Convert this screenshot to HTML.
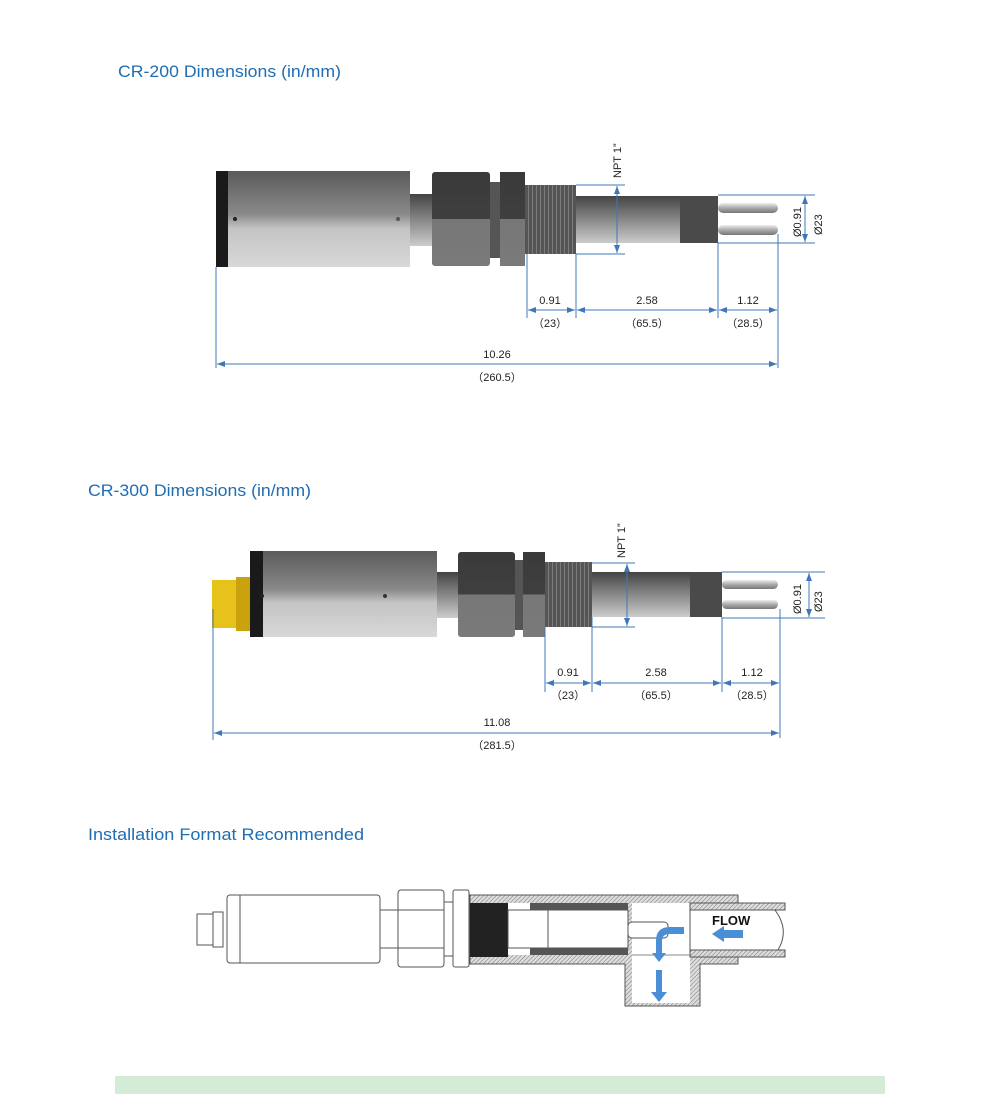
<!DOCTYPE html>
<html><head><meta charset="utf-8"><style>
html,body{margin:0;padding:0;background:#fff}
svg{display:block}
.t{font-family:"Liberation Sans",sans-serif;fill:#1f6db3;font-size:17px}
.d{font-family:"Liberation Sans","Noto Sans CJK SC",sans-serif;fill:#222;font-size:11px}
</style></head><body>
<svg width="1000" height="1117" viewBox="0 0 1000 1117" xmlns="http://www.w3.org/2000/svg">
<defs>
<linearGradient id="g1" x1="0" y1="0" x2="0" y2="1">
<stop offset="0" stop-color="#5a5a5a"/><stop offset="0.45" stop-color="#8a8a8a"/><stop offset="0.6" stop-color="#c4c4c4"/><stop offset="1" stop-color="#d8d8d8"/></linearGradient>
<linearGradient id="g2" x1="0" y1="0" x2="0" y2="1">
<stop offset="0" stop-color="#3a3a3a"/><stop offset="0.5" stop-color="#3f3f3f"/><stop offset="0.5" stop-color="#777"/><stop offset="1" stop-color="#7a7a7a"/></linearGradient>
<linearGradient id="g3" x1="0" y1="0" x2="0" y2="1">
<stop offset="0" stop-color="#444"/><stop offset="0.5" stop-color="#888"/><stop offset="1" stop-color="#ccc"/></linearGradient>
<linearGradient id="gp" x1="0" y1="0" x2="0" y2="1">
<stop offset="0" stop-color="#eee"/><stop offset="0.5" stop-color="#aaa"/><stop offset="1" stop-color="#777"/></linearGradient>
<pattern id="th" width="4" height="4" patternUnits="userSpaceOnUse"><rect width="4" height="4" fill="#555"/><line x1="0" y1="0" x2="0" y2="4" stroke="#888" stroke-width="1.5"/></pattern>
<pattern id="hat" width="3" height="3" patternUnits="userSpaceOnUse" patternTransform="rotate(45)"><rect width="3" height="3" fill="#ddd"/><line x1="0" y1="0" x2="0" y2="3" stroke="#777" stroke-width="1"/></pattern>
<marker id="a" markerWidth="8" markerHeight="6" refX="8" refY="3" orient="auto-start-reverse" markerUnits="userSpaceOnUse"><path d="M0,0 L8,3 L0,6 z" fill="#3f78b8"/></marker>
</defs>

<text class="t" x="118" y="77" textLength="223" lengthAdjust="spacingAndGlyphs">CR-200 Dimensions (in/mm)</text>
<text class="t" x="88" y="496" textLength="223" lengthAdjust="spacingAndGlyphs">CR-300 Dimensions (in/mm)</text>
<text class="t" x="88" y="840" textLength="276" lengthAdjust="spacingAndGlyphs">Installation Format Recommended</text>

<!-- CR-200 -->
<g>
<rect x="216" y="171" width="194" height="96" fill="url(#g1)"/>
<rect x="216" y="171" width="12" height="96" fill="#1a1a1a"/>
<circle cx="235" cy="219" r="2" fill="#222"/><circle cx="398" cy="219" r="2" fill="#555"/>
<rect x="410" y="194" width="22" height="52" fill="url(#g3)"/>
<rect x="432" y="172" width="58" height="94" rx="3" fill="url(#g2)"/>
<rect x="490" y="182" width="10" height="76" fill="#555"/>
<rect x="500" y="172" width="25" height="94" fill="url(#g2)"/>
<rect x="525" y="185" width="51" height="69" fill="url(#th)"/>
<rect x="576" y="196" width="104" height="47" fill="url(#g3)"/>
<rect x="680" y="196" width="38" height="47" fill="#4a4a4a"/>
<rect x="718" y="203" width="60" height="10" rx="5" fill="url(#gp)"/>
<rect x="718" y="225" width="60" height="10" rx="5" fill="url(#gp)"/>
<g stroke="#3f78b8" stroke-width="1" fill="none">
<line x1="576" y1="185" x2="625" y2="185"/><line x1="576" y1="254" x2="625" y2="254"/>
<line x1="617" y1="186" x2="617" y2="253" marker-start="url(#a)" marker-end="url(#a)"/>
<line x1="718" y1="195" x2="815" y2="195"/><line x1="718" y1="243" x2="815" y2="243"/>
<line x1="805" y1="196" x2="805" y2="242" marker-start="url(#a)" marker-end="url(#a)"/>
<line x1="527" y1="254" x2="527" y2="318"/><line x1="576" y1="254" x2="576" y2="318"/>
<line x1="718" y1="243" x2="718" y2="318"/><line x1="778" y1="234" x2="778" y2="368"/>
<line x1="216" y1="267" x2="216" y2="368"/>
<line x1="528" y1="310" x2="575" y2="310" marker-start="url(#a)" marker-end="url(#a)"/>
<line x1="577" y1="310" x2="717" y2="310" marker-start="url(#a)" marker-end="url(#a)"/>
<line x1="719" y1="310" x2="777" y2="310" marker-start="url(#a)" marker-end="url(#a)"/>
<line x1="217" y1="364" x2="777" y2="364" marker-start="url(#a)" marker-end="url(#a)"/>
</g>
<text class="d" transform="translate(621,178) rotate(-90)">NPT 1”</text>
<text class="d" transform="translate(801,237) rotate(-90)">Ø0.91</text>
<text class="d" transform="translate(822,235) rotate(-90)">Ø23</text>
<text class="d" x="550" y="304" text-anchor="middle">0.91</text>
<text class="d" x="550" y="327" text-anchor="middle">（23）</text>
<text class="d" x="647" y="304" text-anchor="middle">2.58</text>
<text class="d" x="647" y="327" text-anchor="middle">（65.5）</text>
<text class="d" x="748" y="304" text-anchor="middle">1.12</text>
<text class="d" x="748" y="327" text-anchor="middle">（28.5）</text>
<text class="d" x="497" y="358" text-anchor="middle">10.26</text>
<text class="d" x="497" y="381" text-anchor="middle">（260.5）</text>
</g>

<!-- CR-300 -->
<g>
<rect x="212" y="580" width="30" height="48" fill="#e6c21a"/>
<rect x="236" y="577" width="14" height="54" fill="#c9a20e"/>
<rect x="250" y="551" width="187" height="86" fill="url(#g1)"/>
<rect x="250" y="551" width="13" height="86" fill="#1a1a1a"/>
<circle cx="262" cy="596" r="2" fill="#222"/><circle cx="385" cy="596" r="2" fill="#333"/>
<rect x="437" y="572" width="21" height="46" fill="url(#g3)"/>
<rect x="458" y="552" width="57" height="85" rx="3" fill="url(#g2)"/>
<rect x="515" y="560" width="8" height="70" fill="#555"/>
<rect x="523" y="552" width="22" height="85" fill="url(#g2)"/>
<rect x="545" y="562" width="47" height="65" fill="url(#th)"/>
<rect x="592" y="572" width="98" height="45" fill="url(#g3)"/>
<rect x="690" y="572" width="32" height="45" fill="#4a4a4a"/>
<rect x="722" y="580" width="56" height="9" rx="4.5" fill="url(#gp)"/>
<rect x="722" y="600" width="56" height="9" rx="4.5" fill="url(#gp)"/>
<g stroke="#3f78b8" stroke-width="1" fill="none">
<line x1="592" y1="563" x2="635" y2="563"/><line x1="592" y1="627" x2="635" y2="627"/>
<line x1="627" y1="564" x2="627" y2="626" marker-start="url(#a)" marker-end="url(#a)"/>
<line x1="722" y1="572" x2="825" y2="572"/><line x1="722" y1="618" x2="825" y2="618"/>
<line x1="809" y1="573" x2="809" y2="617" marker-start="url(#a)" marker-end="url(#a)"/>
<line x1="545" y1="627" x2="545" y2="692"/><line x1="592" y1="617" x2="592" y2="692"/>
<line x1="722" y1="617" x2="722" y2="692"/><line x1="780" y1="609" x2="780" y2="738"/>
<line x1="213" y1="609" x2="213" y2="740"/>
<line x1="546" y1="683" x2="591" y2="683" marker-start="url(#a)" marker-end="url(#a)"/>
<line x1="593" y1="683" x2="721" y2="683" marker-start="url(#a)" marker-end="url(#a)"/>
<line x1="723" y1="683" x2="779" y2="683" marker-start="url(#a)" marker-end="url(#a)"/>
<line x1="214" y1="733" x2="779" y2="733" marker-start="url(#a)" marker-end="url(#a)"/>
</g>
<text class="d" transform="translate(625,558) rotate(-90)">NPT 1”</text>
<text class="d" transform="translate(801,614) rotate(-90)">Ø0.91</text>
<text class="d" transform="translate(822,612) rotate(-90)">Ø23</text>
<text class="d" x="568" y="676" text-anchor="middle">0.91</text>
<text class="d" x="568" y="699" text-anchor="middle">（23）</text>
<text class="d" x="656" y="676" text-anchor="middle">2.58</text>
<text class="d" x="656" y="699" text-anchor="middle">（65.5）</text>
<text class="d" x="752" y="676" text-anchor="middle">1.12</text>
<text class="d" x="752" y="699" text-anchor="middle">（28.5）</text>
<text class="d" x="497" y="726" text-anchor="middle">11.08</text>
<text class="d" x="497" y="749" text-anchor="middle">（281.5）</text>
</g>

<!-- Installation -->
<g stroke="#555" stroke-width="1" fill="#fff">
<rect x="197" y="914" width="16" height="31"/>
<rect x="213" y="912" width="10" height="35"/>
<rect x="227" y="895" width="153" height="68" rx="3"/>
<line x1="240" y1="895" x2="240" y2="963"/>
<rect x="380" y="910" width="18" height="38"/>
<rect x="398" y="890" width="46" height="77" rx="3"/>
<line x1="398" y1="910" x2="444" y2="910"/><line x1="398" y1="948" x2="444" y2="948"/>
<rect x="444" y="902" width="9" height="54"/>
<rect x="453" y="890" width="16" height="77" rx="2"/>
<!-- housing -->
<path d="M470,895 H738 V964 H700 V1006 H625 V964 H470 Z" fill="url(#hat)"/>
<rect x="508" y="903" width="120" height="52" fill="#fff" stroke="none"/>
<rect x="632" y="903" width="58" height="100" fill="#fff" stroke="none"/>
<rect x="470" y="903" width="38" height="54" fill="#222" stroke="none"/>
<rect x="530" y="903" width="98" height="7" fill="#555" stroke="none"/>
<rect x="530" y="948" width="98" height="7" fill="#555" stroke="none"/>
<rect x="508" y="910" width="40" height="38"/>
<rect x="548" y="910" width="80" height="38"/>
<rect x="628" y="922" width="40" height="16" rx="4"/>
<!-- pipe -->
<rect x="690" y="903" width="95" height="7" fill="url(#hat)"/>
<rect x="690" y="950" width="95" height="7" fill="url(#hat)"/>
<rect x="690" y="910" width="95" height="40" fill="#fff" stroke="none"/>
<line x1="690" y1="910" x2="785" y2="910"/><line x1="690" y1="950" x2="785" y2="950"/>
<line x1="690" y1="910" x2="690" y2="950"/>
<line x1="632" y1="955" x2="690" y2="955" stroke="#888"/>
<path d="M775,910 Q790,930 778,950" fill="none"/>
</g>
<text x="712" y="925" font-family="Liberation Sans,sans-serif" font-weight="bold" font-size="13" fill="#111">FLOW</text>
<g fill="#4a8fd6">
<path d="M743,930 H724 V926 L712,934 L724,942 V938 H743 Z"/>
<path d="M684,927 H670 Q656,927 656,941 V953 H652 L659,962 L666,953 H662 V941 Q662,934 670,934 H684 Z"/>
<path d="M656,970 H662 V992 H667 L659,1002 L651,992 H656 Z"/>
</g>

<rect x="115" y="1076" width="770" height="18" fill="#d4ebd8"/>
</svg>
</body></html>
